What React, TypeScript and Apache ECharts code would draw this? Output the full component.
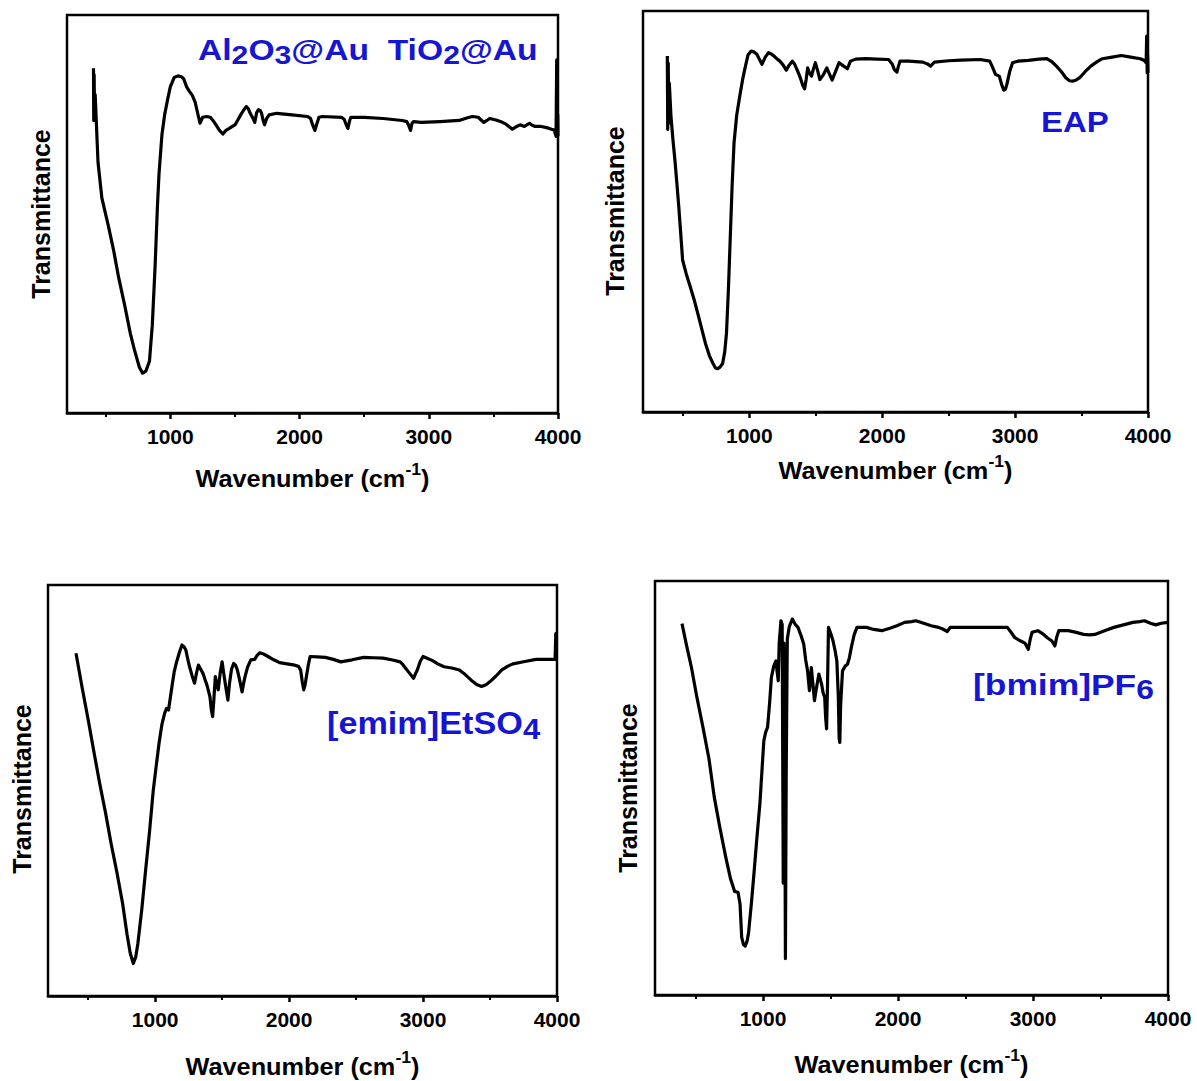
import React, { useEffect, useRef } from "react";
import * as echarts from "echarts";

// ---------- Data (wavenumber in cm-1, transmittance in arbitrary units 0-100) ----------
const p1Wavenumber = [405, 407, 410, 413, 418, 440, 470, 520, 560, 600, 647, 690, 721, 760, 785, 810, 838, 860, 882, 900, 912, 935, 956, 980, 1000, 1030, 1059, 1085, 1103, 1125, 1147, 1170, 1191, 1210, 1229, 1250, 1280, 1309, 1330, 1353, 1380, 1406, 1430, 1456, 1480, 1500, 1520, 1544, 1565, 1588, 1603, 1618, 1640, 1653, 1668, 1682, 1695, 1706, 1718, 1729, 1745, 1765, 1824, 1941, 2059, 2085, 2100, 2118, 2135, 2150, 2176, 2324, 2345, 2360, 2374, 2388, 2397, 2500, 2647, 2794, 2830, 2845, 2859, 2870, 2882, 2941, 3088, 3235, 3300, 3338, 3382, 3426, 3450, 3471, 3520, 3559, 3600, 3647, 3680, 3706, 3740, 3779, 3800, 3824, 3870, 3912, 3950, 3971, 3985, 3990, 3994, 3998, 4000];
const p1Trans = [86.6, 73.5, 85, 75, 80, 63, 54, 47, 41, 34, 27, 20, 16, 11.5, 10, 10.5, 13, 22, 37, 52, 60, 70, 75, 79, 82, 84.3, 84.7, 84.5, 84, 82, 80.8, 79.8, 78.2, 75.5, 72.8, 74.3, 74.5, 74.3, 73.5, 72.4, 71, 70.1, 71, 71.5, 72, 72.4, 73.5, 74.9, 76, 77, 76.5, 75.3, 74, 73, 75.5, 76.2, 76, 75.3, 73.5, 72.4, 74, 74.9, 75.3, 74.9, 74.5, 74, 72.5, 71, 72.8, 74.3, 74.5, 74.3, 73.8, 72.5, 71.5, 73.5, 74.3, 74.3, 74, 73.5, 73.2, 72.2, 71, 72.8, 73.2, 73, 73.2, 73.5, 74.2, 74.5, 74.3, 73, 73.5, 74, 73.6, 73.2, 72.5, 71.3, 72, 72.4, 72, 72.8, 72.3, 72, 72, 71.7, 71.3, 71.1, 69.5, 88.7, 70, 75, 69.5];

const p2Wavenumber = [383, 386, 390, 394, 398, 410, 425, 440, 455, 469, 485, 498, 525, 555, 585, 612, 640, 670, 700, 727, 745, 762, 780, 799, 815, 828, 842, 856, 870, 885, 905, 928, 950, 971, 990, 1014, 1035, 1057, 1075, 1095, 1120, 1144, 1165, 1187, 1210, 1230, 1255, 1278, 1300, 1324, 1340, 1359, 1374, 1388, 1402, 1416, 1428, 1439, 1453, 1468, 1482, 1497, 1515, 1531, 1555, 1583, 1600, 1623, 1650, 1675, 1700, 1738, 1761, 1800, 1876, 1960, 2048, 2075, 2091, 2111, 2120, 2134, 2200, 2306, 2340, 2364, 2380, 2393, 2500, 2593, 2737, 2809, 2830, 2852, 2881, 2900, 2915, 2927, 2938, 2960, 2981, 3024, 3100, 3180, 3239, 3275, 3311, 3350, 3383, 3410, 3432, 3460, 3484, 3525, 3570, 3615, 3656, 3730, 3799, 3870, 3943, 3975, 3986, 3990, 3994, 3997, 4000];
const p2Trans = [88.8, 70.5, 87, 72, 82, 74, 68, 62.9, 57, 51.3, 44, 37.9, 34.5, 31.3, 28, 24.6, 21, 17.1, 14, 12.1, 11, 10.8, 11.2, 12.1, 15, 19.6, 30, 42.9, 56, 67.1, 74, 78.75, 83, 86.25, 89, 90, 89.8, 89.2, 88, 86.7, 88.5, 89.6, 89.3, 88.75, 88, 87.5, 86.5, 85.25, 86.5, 87.5, 86.8, 85.4, 84.2, 82.9, 81.5, 80.6, 83, 85.8, 84.5, 83.75, 85.5, 87.1, 85, 82.9, 84, 85.8, 84.5, 82.75, 85, 87.1, 86.5, 85.6, 87.5, 88, 88.1, 88, 87.9, 86.8, 85.4, 84.75, 86, 87.5, 87.5, 87.25, 86.8, 86.25, 86.8, 87.25, 87.6, 87.75, 87.9, 87.5, 86, 84.2, 83.75, 81.5, 80.25, 80.5, 81.7, 85, 87.1, 87.5, 87.7, 88, 88.1, 87.4, 86.25, 84.8, 83.3, 82.6, 82.5, 82.8, 83.3, 84.8, 86.25, 87.3, 88.1, 88.5, 88.9, 88.5, 88.1, 87.6, 87.1, 93.75, 84.6, 89, 84.6];

const p3Wavenumber = [409, 455, 500, 545, 586, 630, 671, 715, 757, 790, 814, 837, 855, 871, 900, 929, 958, 986, 1008, 1029, 1050, 1071, 1085, 1100, 1115, 1129, 1143, 1157, 1180, 1200, 1215, 1229, 1243, 1257, 1275, 1294, 1308, 1323, 1340, 1357, 1372, 1386, 1400, 1409, 1420, 1429, 1438, 1449, 1460, 1471, 1485, 1500, 1512, 1523, 1533, 1543, 1555, 1570, 1586, 1600, 1614, 1630, 1649, 1660, 1671, 1690, 1714, 1743, 1760, 1780, 1810, 1843, 1885, 1929, 1985, 2043, 2070, 2086, 2098, 2109, 2118, 2129, 2143, 2157, 2210, 2271, 2330, 2386, 2470, 2557, 2630, 2700, 2765, 2829, 2850, 2871, 2900, 2929, 2945, 2957, 2980, 3000, 3035, 3071, 3110, 3157, 3215, 3271, 3315, 3357, 3400, 3437, 3470, 3500, 3543, 3586, 3630, 3671, 3760, 3843, 3920, 3986, 3991, 3995, 4000];
const p3Trans = [83.4, 75, 67.2, 59, 51.7, 44.5, 37.1, 30, 22.5, 15, 10.4, 7.9, 9.5, 12.8, 21, 30.7, 40, 50.1, 56, 61.5, 66, 68.8, 70, 69.6, 73, 76.1, 79, 80.9, 83.5, 85.4, 85, 84.2, 82, 80.1, 78, 76.1, 78.5, 80.5, 79.5, 78.5, 77, 75.7, 74, 72.8, 69.5, 68, 72, 77.7, 76, 74.5, 78.5, 81.3, 78.5, 76.1, 74, 72, 76, 79.5, 80.9, 80.5, 79.3, 77, 74, 76, 77.7, 80, 81.8, 81.9, 82.8, 83.5, 83.2, 82.6, 81.8, 81.1, 80.8, 80.5, 80.2, 79.3, 76.5, 74.5, 75.5, 77.7, 80.5, 82.6, 82.5, 82.4, 81.9, 81.3, 81.8, 82.4, 82.3, 82.2, 81.8, 81.3, 80.6, 79.7, 78.5, 77.3, 78.5, 79.3, 81.5, 82.6, 82.1, 81.6, 80.8, 80.1, 79.8, 79.3, 78.2, 76.9, 75.8, 75.3, 75.7, 76.5, 77.8, 79.3, 80.2, 80.8, 81.4, 81.9, 81.9, 81.9, 88.2, 81.9, 81.8];

const p4Wavenumber = [400, 430, 470, 510, 555, 600, 639, 680, 724, 760, 790, 815, 830, 842, 855, 868, 882, 893, 915, 935, 955, 977, 992, 1006, 1020, 1034, 1050, 1062, 1080, 1096, 1105, 1113, 1120, 1133, 1142, 1150, 1155, 1160, 1166, 1172, 1180, 1195, 1217, 1240, 1259, 1280, 1302, 1316, 1330, 1344, 1358, 1370, 1381, 1395, 1414, 1434, 1445, 1457, 1464, 1471, 1478, 1485, 1500, 1519, 1535, 1547, 1558, 1564, 1569, 1575, 1589, 1610, 1626, 1640, 1654, 1675, 1696, 1767, 1820, 1880, 1940, 1992, 2049, 2100, 2133, 2190, 2246, 2300, 2331, 2365, 2387, 2500, 2613, 2700, 2810, 2840, 2866, 2909, 2940, 2965, 2980, 2993, 3036, 3070, 3106, 3140, 3162, 3176, 3191, 3261, 3320, 3374, 3420, 3458, 3530, 3599, 3670, 3740, 3790, 3825, 3870, 3909, 3950, 4000];
const p4Trans = [89.7, 85, 79.1, 72, 64.7, 57, 47.8, 40.5, 33.3, 28, 25, 24.8, 22, 14, 12.2, 11.8, 13, 15, 22.5, 30.1, 38, 46.2, 54, 61.4, 63.5, 64.7, 71, 76.7, 79.5, 80.7, 78, 75.9, 85, 90.4, 89.5, 27, 85, 68, 8.8, 54, 86, 89, 90.8, 89.5, 88.8, 87, 84.7, 81, 78.3, 73.5, 79.1, 75, 71.1, 74, 77.5, 75.1, 73, 71.9, 67, 64.3, 75, 88.8, 87.5, 85.5, 83, 80.7, 72, 62, 61, 70, 78.3, 79.5, 79.9, 81.5, 83.9, 87, 88.8, 88.8, 88.3, 88, 88.6, 89.2, 90, 90.2, 90.4, 89.8, 89.2, 88.8, 88.4, 87.8, 88.8, 88.8, 88.8, 88.8, 88.8, 87.5, 86.3, 85.5, 85, 83.5, 86, 87.6, 88, 87.3, 86.3, 85.5, 84.3, 86.5, 88, 88, 87.6, 87.1, 87, 87.1, 88, 88.8, 89.4, 90, 90.2, 90.4, 89.8, 89.4, 89.8, 90];

const majorTicks = [1000, 2000, 3000, 4000];
const minorTicks = [500, 1500, 2500, 3500];
const xMin = 200;
const xMax = 4000;

const panelLabels = ["Al2O3@Au  TiO2@Au", "EAP", "[emim]EtSO4", "[bmim]PF6"];
const xTitle = "Wavenumber (cm-1)";
const yTitle = "Transmittance";

// ---------- Layout ----------
const grids = [
  { left: 67, top: 15, width: 491, height: 398 },
  { left: 643, top: 11, width: 505, height: 401 },
  { left: 48, top: 585, width: 509, height: 411 },
  { left: 655, top: 581, width: 513, height: 414 },
];
const xTitlePos = [
  [312.5, 476],
  [895.5, 468],
  [302.5, 1064],
  [911.5, 1062],
];
const yTitlePos = [
  [41, 214],
  [615, 211],
  [22, 789],
  [627.5, 788],
];

const FONT = "Arial, 'Liberation Sans', Helvetica, sans-serif";
const BLUE = "#1616d2";

function zip(xs: number[], ys: number[]) {
  return xs.map((x, i) => [x, ys[i]]);
}

function richLabel(size: number, subPad: number) {
  return {
    m: { fontSize: size, fontWeight: "bold", fontFamily: FONT, fill: BLUE, verticalAlign: "top" },
    s: {
      fontSize: size - 3,
      fontWeight: "bold",
      fontFamily: FONT,
      fill: BLUE,
      verticalAlign: "top",
      padding: [subPad, 0, 0, 0],
    },
  };
}

export default function App() {
  const ref = useRef<HTMLDivElement>(null);

  useEffect(() => {
    if (!ref.current) return;
    const chart = echarts.init(ref.current, undefined, { renderer: "svg" });
    const seriesData = [
      zip(p1Wavenumber, p1Trans),
      zip(p2Wavenumber, p2Trans),
      zip(p3Wavenumber, p3Trans),
      zip(p4Wavenumber, p4Trans),
    ];

    const xAxes: any[] = [];
    const yAxes: any[] = [];
    grids.forEach((_, i) => {
      xAxes.push({
        gridIndex: i,
        type: "value",
        min: xMin,
        max: xMax,
        position: "bottom",
        axisLine: { show: true, onZero: false, lineStyle: { color: "#000", width: 2.5 } },
        axisTick: {
          show: true,
          inside: false,
          length: 6,
          customValues: majorTicks,
          lineStyle: { color: "#000", width: 2.5 },
        },
        axisLabel: {
          show: true,
          customValues: majorTicks,
          formatter: (v: number) => String(v),
          margin: 13,
          color: "#000",
          fontSize: 21,
          fontWeight: "bold",
          fontFamily: FONT,
        },
        splitLine: { show: false },
      });
      xAxes.push({
        gridIndex: i,
        type: "value",
        min: xMin,
        max: xMax,
        position: "bottom",
        offset: 0,
        axisLine: { show: false, onZero: false },
        axisTick: {
          show: true,
          inside: false,
          length: 4,
          customValues: minorTicks,
          lineStyle: { color: "#000", width: 2 },
        },
        axisLabel: { show: false },
        splitLine: { show: false },
      });
      yAxes.push({
        gridIndex: i,
        type: "value",
        min: 0,
        max: 100,
        axisLine: { show: false },
        axisTick: { show: false },
        axisLabel: { show: false },
        splitLine: { show: false },
      });
    });

    const graphics: any[] = [];
    // Panel labels
    graphics.push({
      type: "text",
      x: 198,
      y: 52,
      scaleX: 1.16,
      style: {
        text: "{m|Al}{s|2}{m|O}{s|3}{m|@Au  TiO}{s|2}{m|@Au}",
        rich: richLabel(29, 7),
        verticalAlign: "middle",
        align: "left",
      },
    });
    graphics.push({
      type: "text",
      x: 1041,
      y: 122,
      scaleX: 1.1,
      style: {
        text: panelLabels[1],
        fill: BLUE,
        fontSize: 30,
        fontWeight: "bold",
        fontFamily: FONT,
        verticalAlign: "middle",
        align: "left",
      },
    });
    graphics.push({
      type: "text",
      x: 327,
      y: 725,
      scaleX: 1.07,
      style: {
        text: "{m|[emim]EtSO}{s|4}",
        rich: richLabel(32, 7),
        verticalAlign: "middle",
        align: "left",
      },
    });
    graphics.push({
      type: "text",
      x: 973,
      y: 686,
      scaleX: 1.18,
      style: {
        text: "{m|[bmim]PF}{s|6}",
        rich: richLabel(30, 7),
        verticalAlign: "middle",
        align: "left",
      },
    });

    // Axis titles
    const titleParts = xTitle.split("-1");
    xTitlePos.forEach(([x, y]) => {
      graphics.push({
        type: "text",
        x,
        y,
        scaleX: 1.1,
        style: {
          text: `{m|${titleParts[0]}}{p|-1}{m|${titleParts[1]}}`,
          rich: {
            m: {
              fontSize: 23,
              fontWeight: "bold",
              fontFamily: FONT,
              fill: "#000",
              verticalAlign: "top",
              padding: [5, 0, 0, 0],
            },
            p: { fontSize: 16, fontWeight: "bold", fontFamily: FONT, fill: "#000", verticalAlign: "top" },
          },
          align: "center",
          verticalAlign: "middle",
        },
      });
    });
    yTitlePos.forEach(([x, y]) => {
      graphics.push({
        type: "text",
        x,
        y,
        rotation: Math.PI / 2,
        style: {
          text: yTitle,
          fill: "#000",
          fontSize: 25,
          fontWeight: "bold",
          fontFamily: FONT,
          align: "center",
          verticalAlign: "middle",
        },
      });
    });

    chart.setOption({
      animation: false,
      backgroundColor: "#fff",
      grid: grids.map((g) => ({
        ...g,
        show: true,
        borderColor: "#000",
        borderWidth: 2.5,
        backgroundColor: "transparent",
        containLabel: false,
      })),
      xAxis: xAxes,
      yAxis: yAxes,
      series: seriesData.map((d, i) => ({
        type: "line",
        name: panelLabels[i],
        xAxisIndex: i * 2,
        yAxisIndex: i,
        data: d,
        showSymbol: false,
        symbol: "none",
        lineStyle: { color: "#000", width: 3.2, join: "round" },
        z: 5,
      })),
      graphic: graphics,
    });

    return () => chart.dispose();
  }, []);

  return (
    <div
      ref={ref}
      style={{ position: "absolute", left: 0, top: 0, width: 1197, height: 1081 }}
    />
  );
}
